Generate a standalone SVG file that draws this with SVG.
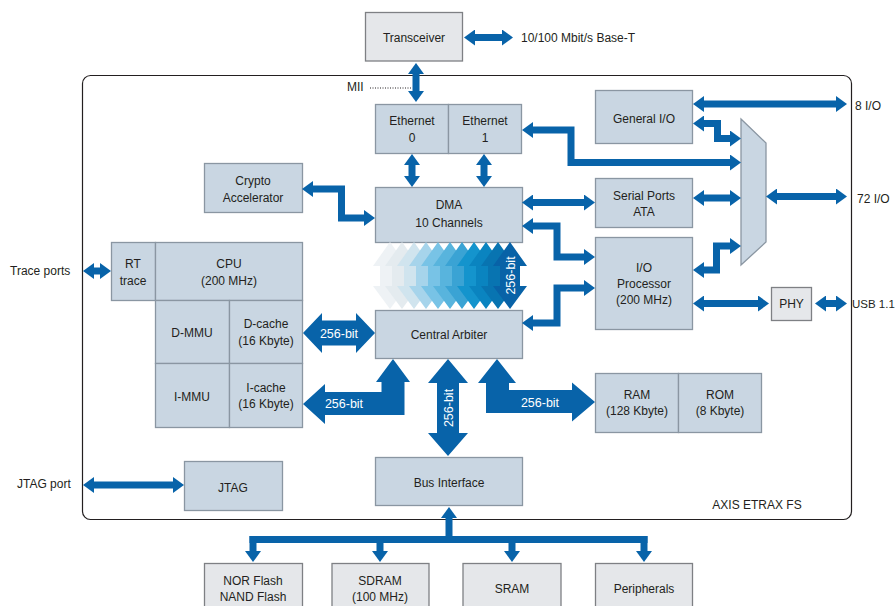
<svg xmlns="http://www.w3.org/2000/svg" width="896" height="606" viewBox="0 0 896 606">
<style>
.blk{fill:#c9d6e2;stroke:#8a96a2;stroke-width:1.3}
.gry{fill:#e5e7ea;stroke:#7e8084;stroke-width:1.3}
.t{font-family:"Liberation Sans",Arial,sans-serif;font-size:12px;fill:#231f20;text-anchor:middle}
.tl{text-anchor:start}
.w{fill:#ffffff;font-size:12.5px}
.c{fill:none;stroke:#0863a9;stroke-width:7;stroke-linejoin:miter}
.a2{marker-start:url(#ah);marker-end:url(#ah)}
.a1{marker-end:url(#ah)}
.a0{marker-start:url(#ah)}
.big{fill:#0863a9}
</style>
<defs>
<marker id="ah" markerUnits="userSpaceOnUse" markerWidth="12" markerHeight="16" viewBox="0 0 12 16" refX="1" refY="8" orient="auto-start-reverse">
<path d="M0,0 L11,8 L0,16 Z" fill="#0863a9"/>
</marker>
</defs>
<rect x="82.5" y="75.5" width="769" height="444" rx="8" fill="none" stroke="#231f20" stroke-width="1.2"/>
<text class="t" x="757" y="509">AXIS ETRAX FS</text>

<g id="transceiver"><rect class="gry" x="365.5" y="12.5" width="97" height="48.5"/><text class="t" x="414" y="42">Transceiver</text></g>
<text class="t tl" x="521" y="42">10/100 Mbit/s Base-T</text>
<text class="t tl" x="347" y="91">MII</text>
<line x1="370" y1="88" x2="412" y2="88" stroke="#231f20" stroke-width="1" stroke-dasharray="1,1.5"/>

<g id="ethernet0"><rect class="blk" x="375.5" y="104.5" width="73" height="49"/><text class="t" x="412" y="125">Ethernet</text><text class="t" x="412" y="142">0</text></g>
<g id="ethernet1"><rect class="blk" x="448.5" y="104.5" width="73" height="49"/><text class="t" x="485" y="125">Ethernet</text><text class="t" x="485" y="142">1</text></g>
<g id="generalio"><rect class="blk" x="595.5" y="90.5" width="97" height="53"/><text class="t" x="644" y="123">General I/O</text></g>
<text class="t tl" x="855" y="110">8 I/O</text>
<g id="serial"><rect class="blk" x="595.5" y="178.5" width="97" height="49"/><text class="t" x="644" y="200">Serial Ports</text><text class="t" x="644" y="216">ATA</text></g>
<text class="t tl" x="857" y="203">72 I/O</text>
<g id="iop"><rect class="blk" x="595.5" y="237.5" width="97" height="92"/><text class="t" x="644" y="272">I/O</text><text class="t" x="644" y="288">Processor</text><text class="t" x="644" y="304">(200 MHz)</text></g>
<g id="mux"><polygon class="blk" points="741,119 766,143 766,242 741,265"/></g>
<g id="phy"><rect class="gry" x="771.5" y="287.5" width="40" height="33"/><text class="t" x="791.5" y="308">PHY</text></g>
<text class="t tl" x="852" y="308" style="font-size:11.5px">USB 1.1</text>
<g id="dma"><rect class="blk" x="375.5" y="187.5" width="147" height="55"/><text class="t" x="449" y="209">DMA</text><text class="t" x="449" y="227">10 Channels</text></g>
<g id="arbiter"><rect class="blk" x="375.5" y="310.5" width="147" height="48"/><text class="t" x="449" y="339">Central Arbiter</text></g>
<g id="crypto"><rect class="blk" x="204.5" y="163.5" width="98" height="49"/><text class="t" x="253" y="185">Crypto</text><text class="t" x="253" y="202">Accelerator</text></g>
<text class="t tl" x="10" y="275">Trace ports</text>
<g id="cpu">
<rect class="blk" x="111.5" y="242.5" width="44" height="58"/><text class="t" x="133" y="268">RT</text><text class="t" x="133" y="285">trace</text>
<rect class="blk" x="155.5" y="242.5" width="147" height="58"/><text class="t" x="229" y="268">CPU</text><text class="t" x="229" y="285">(200 MHz)</text>
<rect class="blk" x="155.5" y="300.5" width="74" height="63"/><text class="t" x="192" y="337">D-MMU</text>
<rect class="blk" x="229.5" y="300.5" width="73" height="63"/><text class="t" x="266" y="328">D-cache</text><text class="t" x="266" y="345">(16 Kbyte)</text>
<rect class="blk" x="155.5" y="363.5" width="74" height="64"/><text class="t" x="192" y="401">I-MMU</text>
<rect class="blk" x="229.5" y="363.5" width="73" height="64"/><text class="t" x="266" y="392">I-cache</text><text class="t" x="266" y="408">(16 Kbyte)</text>
</g>
<g id="ramrom">
<rect class="blk" x="595.5" y="373.5" width="83" height="59"/><text class="t" x="637" y="399">RAM</text><text class="t" x="637" y="415">(128 Kbyte)</text>
<rect class="blk" x="678.5" y="373.5" width="83" height="59"/><text class="t" x="720" y="399">ROM</text><text class="t" x="720" y="415">(8 Kbyte)</text>
</g>
<g id="businterface"><rect class="blk" x="375.5" y="457.5" width="147" height="48"/><text class="t" x="449" y="487">Bus Interface</text></g>
<text class="t tl" x="17" y="488">JTAG port</text>
<g id="jtag"><rect class="blk" x="184.5" y="461.5" width="98" height="49"/><text class="t" x="233" y="492">JTAG</text></g>
<g id="norflash"><rect class="gry" x="204.5" y="563.5" width="98" height="60"/><text class="t" x="253" y="585">NOR Flash</text><text class="t" x="253" y="601">NAND Flash</text></g>
<g id="sdram"><rect class="gry" x="332" y="563.5" width="97" height="60"/><text class="t" x="380" y="585">SDRAM</text><text class="t" x="380" y="601">(100 MHz)</text></g>
<g id="sram"><rect class="gry" x="463" y="563.5" width="98" height="60"/><text class="t" x="512" y="593">SRAM</text></g>
<g id="peripherals"><rect class="gry" x="595.5" y="563.5" width="97" height="60"/><text class="t" x="644" y="593">Peripherals</text></g>

<g id="connectors">
<path class="c a2" d="M474,37.5 H503"/>
<path class="c a2" d="M416,73 V92"/>
<path class="c a2" d="M412,164 V177"/>
<path class="c a2" d="M484,164 V177"/>
<path class="c a2" d="M532,130 H571 V162.5 H731"/>
<path class="c a2" d="M703,104 H837"/>
<path class="c a2" d="M703,123.5 H717.5 V138.5 H731"/>
<path class="c a2" d="M703,198 H731"/>
<path class="c a2" d="M532,202.5 H585"/>
<path class="c a2" d="M532,226 H557 V257 H585"/>
<path class="c a2" d="M532,323 H557 V288 H585"/>
<path class="c a2" d="M703,270 H716.5 V246 H731"/>
<path class="c a2" d="M776,196.5 H837"/>
<path class="c a2" d="M703,303.5 H759"/>
<path class="c a2" d="M825,303.5 H837"/>
<path class="c a2" d="M312,189 H341.5 V218 H365"/>
<path class="c a2" d="M93,271 H101"/>
<path class="c a2" d="M93,485 H174"/>
<path class="c a0" d="M449,517 V543"/>
<path class="c" d="M249.5,539.5 H647.5"/>
<path class="c a1" d="M253,536 V552"/>
<path class="c a1" d="M380,536 V552"/>
<path class="c a1" d="M512,536 V552"/>
<path class="c a1" d="M644,536 V552"/>

<polygon class="big" points="303,333 322,313 322,320.5 356,320.5 356,313 375,333 356,353 356,345.5 322,345.5 322,353"/>
<text class="t w" x="339" y="338">256-bit</text>
<polygon class="big" points="303,404 325,384 325,392 381.5,392 381.5,382 376,382 393,359 410,382 404.5,382 404.5,415 325,415 325,424"/>
<text class="t w" x="344" y="408">256-bit</text>
<polygon class="big" points="448,359 468,383 459,383 459,433 468,433 448,456 428,433 437,433 437,383 428,383"/>
<text class="t w" transform="translate(452.5,408) rotate(-90)" x="0" y="0">256-bit</text>
<polygon class="big" points="497,359 516,383 509,383 509,390 572,390 572,382.5 595,402 572,421.5 572,413 486,413 486,383 478,383"/>
<text class="t w" x="540" y="407">256-bit</text>

<g id="bus256">
<polygon fill="#eef2f5" points="390,242 407,266 400,266 400,286 407,286 390,309 373,286 380,286 380,266 373,266"/>
<polygon fill="#e4ebef" points="402,242 419,266 412,266 412,286 419,286 402,309 385,286 392,286 392,266 385,266"/>
<polygon fill="#d0e4ee" points="414,242 431,266 424,266 424,286 431,286 414,309 397,286 404,286 404,266 397,266"/>
<polygon fill="#a6d4eb" points="426,242 443,266 436,266 436,286 443,286 426,309 409,286 416,286 416,266 409,266"/>
<polygon fill="#78c3e6" points="438,242 455,266 448,266 448,286 455,286 438,309 421,286 428,286 428,266 421,266"/>
<polygon fill="#58b4dd" points="450,242 467,266 460,266 460,286 467,286 450,309 433,286 440,286 440,266 433,266"/>
<polygon fill="#3aa3d4" points="462,242 479,266 472,266 472,286 479,286 462,309 445,286 452,286 452,266 445,266"/>
<polygon fill="#1494cd" points="474,242 491,266 484,266 484,286 491,286 474,309 457,286 464,286 464,266 457,266"/>
<polygon fill="#0a84c0" points="486,242 503,266 496,266 496,286 503,286 486,309 469,286 476,286 476,266 469,266"/>
<polygon fill="#0874b1" points="498,242 515,266 508,266 508,286 515,286 498,309 481,286 488,286 488,266 481,266"/>
<polygon fill="#0862a7" points="510,242 527,266 520,266 520,286 527,286 510,309 493,286 500,286 500,266 493,266"/>
<text class="t w" transform="translate(514.5,275.5) rotate(-90)" x="0" y="0">256-bit</text>
</g>
</g>
</svg>
